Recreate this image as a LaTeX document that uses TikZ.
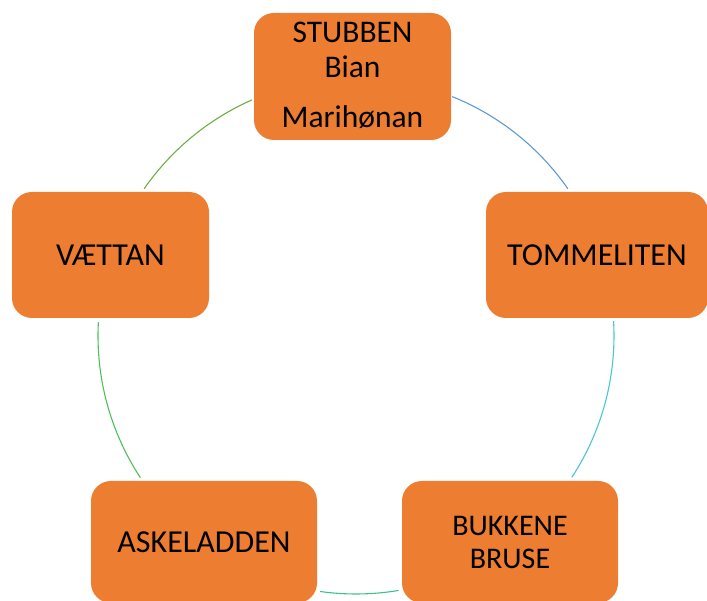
\documentclass[tikz,border=0pt]{standalone}
\usepackage{fontspec}
\setmainfont{Carlito}
\definecolor{boxfill}{RGB}{237,125,49}
\definecolor{arcA}{RGB}{91,155,213}
\definecolor{arcB}{RGB}{72,200,205}
\definecolor{arcC}{RGB}{60,195,140}
\definecolor{arcD}{RGB}{80,190,90}
\definecolor{arcE}{RGB}{112,173,71}
\begin{document}
\begin{tikzpicture}[x=1pt,y=1pt,
  box/.style={fill=boxfill,draw=none,rounded corners=20pt,inner sep=0pt,align=center,text=black},
  bigtxt/.style={font=\fontsize{32}{38}\selectfont},
  toptxt/.style={font=\fontsize{31.5}{37}\selectfont},
  smalltxt/.style={font=\fontsize{30}{35}\selectfont},
  ring/.style={line width=1.1pt}]
\useasboundingbox (0,0) rectangle (707,601);
\clip (0,0) rectangle (707,601);
\coordinate (c) at (356,265);
\node[box,minimum width=197pt,minimum height=127pt] (stubben) at (352.5,524.5) {};
\node[toptxt,anchor=base] (t1) at (352.5,558) {STUBBEN};
\node[toptxt,anchor=base] (t2) at (352.5,523) {Bian};
\node[toptxt,anchor=base] (t3) at (352.5,473) {Marihønan};
\node[box,bigtxt,minimum width=222pt,minimum height=126pt] (tomme) at (597,346) {TOMMELITEN};
\node[box,bigtxt,minimum width=197pt,minimum height=126pt] (vaettan) at (110.5,346) {VÆTTAN};
\node[box,bigtxt,minimum width=226pt,minimum height=122pt] (aske) at (204,59) {ASKELADDEN};
\node[box,minimum width=216pt,minimum height=122pt] (bukk) at (510,59) {};
\node[smalltxt,anchor=base] (b1) at (510,65) {BUKKENE};
\node[smalltxt,anchor=base] (b2) at (510,32) {BRUSE};
\draw[ring,arcA] ([shift={(68.1:258)}]c) arc[start angle=68.1,end angle=34.8,radius=258];
\draw[ring,arcB] ([shift={(3.3:258)}]c) arc[start angle=3.3,end angle=-33.2,radius=258];
\draw[ring,arcC] ([shift={(-80.5:258)}]c) arc[start angle=-80.5,end angle=-98,radius=258];
\draw[ring,arcD] ([shift={(213.3:258)}]c) arc[start angle=213.3,end angle=176.9,radius=258];
\draw[ring,arcE] ([shift={(145.2:258)}]c) arc[start angle=145.2,end angle=113.8,radius=258];
\end{tikzpicture}
\end{document}
